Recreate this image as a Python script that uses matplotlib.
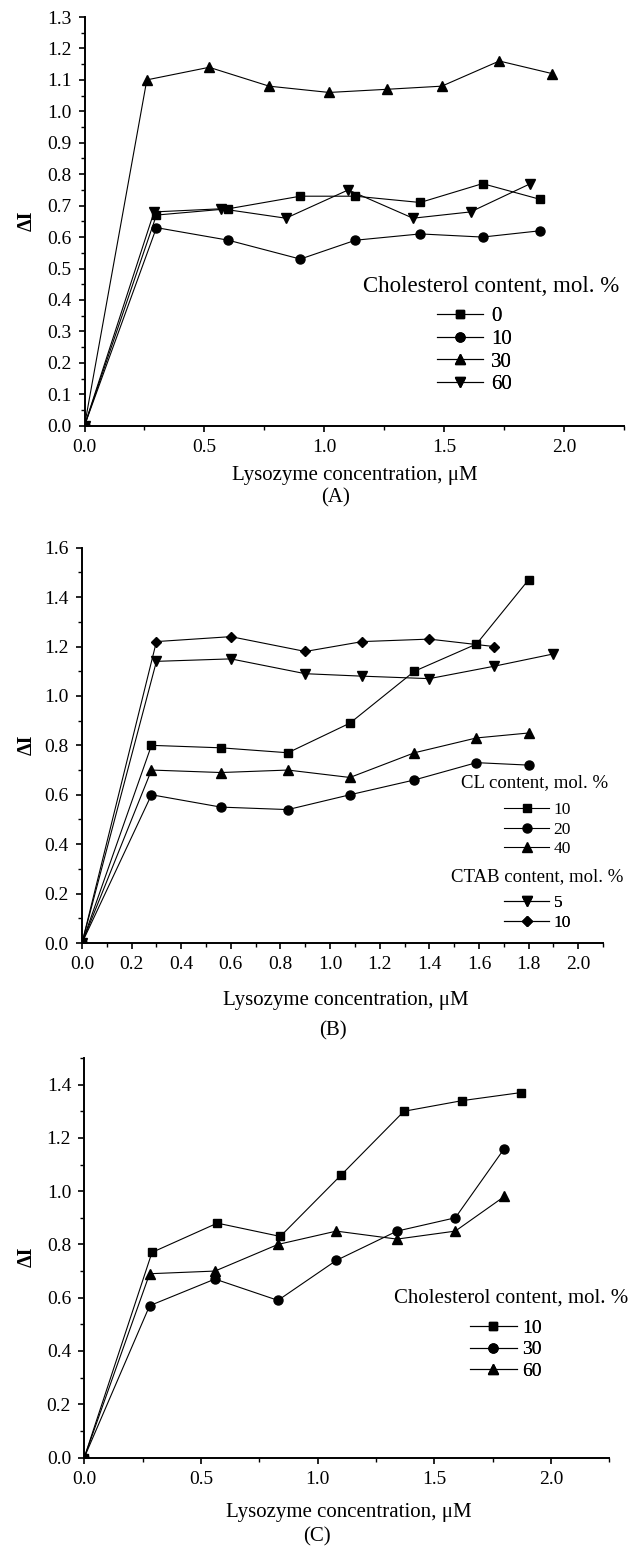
import matplotlib
matplotlib.use("Agg")
import matplotlib.pyplot as plt
from matplotlib.ticker import MultipleLocator

plt.rcParams['font.family'] = ['Liberation Serif', 'DejaVu Serif']

# ---------------- Panel A data ----------------
a_labels = ["0", "10", "30", "60"]
a_x0 = [0.0, 0.30, 0.60, 0.90, 1.13, 1.40, 1.66, 1.90]
a_y0 = [0.0, 0.67, 0.69, 0.73, 0.73, 0.71, 0.77, 0.72]
a_x10 = [0.0, 0.30, 0.60, 0.90, 1.13, 1.40, 1.66, 1.90]
a_y10 = [0.0, 0.63, 0.59, 0.53, 0.59, 0.61, 0.60, 0.62]
a_x30 = [0.0, 0.26, 0.52, 0.77, 1.02, 1.26, 1.49, 1.73, 1.95]
a_y30 = [0.0, 1.10, 1.14, 1.08, 1.06, 1.07, 1.08, 1.16, 1.12]
a_x60 = [0.0, 0.29, 0.57, 0.84, 1.10, 1.37, 1.61, 1.86]
a_y60 = [0.0, 0.68, 0.69, 0.66, 0.75, 0.66, 0.68, 0.77]

# ---------------- Panel B data ----------------
b_cl_labels = ["10", "20", "40"]
b_ctab_labels = ["5", "10"]
b_x_cl = [0.0, 0.28, 0.56, 0.83, 1.08, 1.34, 1.59, 1.80]
b_y_cl10 = [0.0, 0.80, 0.79, 0.77, 0.89, 1.10, 1.21, 1.47]
b_y_cl20 = [0.0, 0.60, 0.55, 0.54, 0.60, 0.66, 0.73, 0.72]
b_y_cl40 = [0.0, 0.70, 0.69, 0.70, 0.67, 0.77, 0.83, 0.85]
b_x_ctab5 = [0.0, 0.30, 0.60, 0.90, 1.13, 1.40, 1.66, 1.90]
b_y_ctab5 = [0.0, 1.14, 1.15, 1.09, 1.08, 1.07, 1.12, 1.17]
b_x_ctab10 = [0.0, 0.30, 0.60, 0.90, 1.13, 1.40, 1.66]
b_y_ctab10 = [0.0, 1.22, 1.24, 1.18, 1.22, 1.23, 1.20]

# ---------------- Panel C data ----------------
c_labels = ["10", "30", "60"]
c_x10 = [0.0, 0.29, 0.57, 0.84, 1.10, 1.37, 1.62, 1.87]
c_y10 = [0.0, 0.77, 0.88, 0.83, 1.06, 1.30, 1.34, 1.37]
c_x30 = [0.0, 0.28, 0.56, 0.83, 1.08, 1.34, 1.59, 1.80]
c_y30 = [0.0, 0.57, 0.67, 0.59, 0.74, 0.85, 0.90, 1.16]
c_x60 = [0.0, 0.28, 0.56, 0.83, 1.08, 1.34, 1.59, 1.80]
c_y60 = [0.0, 0.69, 0.70, 0.80, 0.85, 0.82, 0.85, 0.98]

xlabel = "Lysozyme concentration, \u03bcM"
ylabel = "\u0394I"

W, H = 638, 1555
fig = plt.figure(figsize=(W / 100, H / 100), dpi=100)


def fx(x):
    return x / W


def fy(y):
    return 1 - y / H


def make_ax(left, top, right, bottom):
    return fig.add_axes([fx(left), fy(bottom), (right - left) / W, (bottom - top) / H])


def style(ax, xlim, ylim, xmaj, xmin, ymaj, ymin):
    ax.set_xlim(*xlim)
    ax.set_ylim(*ylim)
    ax.xaxis.set_major_locator(MultipleLocator(xmaj))
    ax.xaxis.set_minor_locator(MultipleLocator(xmin))
    ax.yaxis.set_major_locator(MultipleLocator(ymaj))
    ax.yaxis.set_minor_locator(MultipleLocator(ymin))
    ax.xaxis.set_major_formatter(plt.FormatStrFormatter('%.1f'))
    ax.yaxis.set_major_formatter(plt.FormatStrFormatter('%.1f'))
    for s in ['top', 'right']:
        ax.spines[s].set_visible(False)
    for s in ['left', 'bottom']:
        ax.spines[s].set_linewidth(1.4)
    ax.tick_params(which='major', direction='out', length=4.5, width=1.2, labelsize=14, pad=5)
    ax.tick_params(which='minor', direction='out', length=2.8, width=1.0)


def labels(xc, xly, yly, letter, lx, ly, axcy):
    fig.text(fx(xc), fy(xly), xlabel, ha='center', va='center', fontsize=15)
    fig.text(fx(26.6), fy(axcy), ylabel, ha='center', va='center', rotation=90,
             fontsize=14.5, fontweight='bold')
    fig.text(fx(lx), fy(ly), letter, ha='center', va='center', fontsize=15)


def entries(ax, handles, labs, left, cy, fs, hl, tp, ls):
    leg = ax.legend(handles, labs, frameon=False, loc='center left',
                    bbox_to_anchor=(fx(left), fy(cy)), bbox_transform=fig.transFigure,
                    fontsize=fs, handlelength=hl, handletextpad=tp, labelspacing=ls,
                    borderpad=0, borderaxespad=0)
    ax.add_artist(leg)
    return leg


lw = 0.8

# ---------- Panel A ----------
axA = make_ax(84.5, 17, 624, 425.7)
hA = []
hA += axA.plot(a_x0, a_y0, marker='s', markersize=5.5, color='black', lw=lw)
hA += axA.plot(a_x10, a_y10, marker='o', markersize=6.5, color='black', lw=lw)
hA += axA.plot(a_x30, a_y30, marker='^', markersize=7, color='black', lw=lw)
hA += axA.plot(a_x60, a_y60, marker='v', markersize=7, color='black', lw=lw)
style(axA, (0, 2.25), (0, 1.3), 0.5, 0.25, 0.1, 0.05)
fig.text(fx(491), fy(286), "Cholesterol content, mol. %", ha='center', va='center', fontsize=16.5)
entries(axA, hA, a_labels, 437, 350.5, 15, 2.2, 0.4, 0.15)
labels(355, 475.7, 0, "(A)", 336, 498, 221)

# ---------- Panel B ----------
axB = make_ax(82, 547.7, 603, 943)
h_cl = []
h_cl += axB.plot(b_x_cl, b_y_cl10, marker='s', markersize=5.5, color='black', lw=lw)
h_cl += axB.plot(b_x_cl, b_y_cl20, marker='o', markersize=6.5, color='black', lw=lw)
h_cl += axB.plot(b_x_cl, b_y_cl40, marker='^', markersize=7, color='black', lw=lw)
h_ct = []
h_ct += axB.plot(b_x_ctab5, b_y_ctab5, marker='v', markersize=7, color='black', lw=lw)
h_ct += axB.plot(b_x_ctab10, b_y_ctab10, marker='D', markersize=5.5, color='black', lw=lw)
style(axB, (0, 2.1), (0, 1.6), 0.2, 0.1, 0.2, 0.1)
fig.text(fx(535), fy(783), "CL content, mol. %", ha='center', va='center', fontsize=13.5)
entries(axB, h_cl, b_cl_labels, 504, 829.5, 12.5, 2.6, 0.25, 0.2)
fig.text(fx(537), fy(877), "CTAB content, mol. %", ha='center', va='center', fontsize=13.5)
entries(axB, h_ct, b_ctab_labels, 504, 913, 12.5, 2.6, 0.25, 0.2)
labels(345.6, 1000, 0, "(B)", 333, 1031, 745)

# ---------- Panel C ----------
axC = make_ax(84.3, 1058, 609.3, 1457.5)
hC = []
hC += axC.plot(c_x10, c_y10, marker='s', markersize=5.5, color='black', lw=lw)
hC += axC.plot(c_x30, c_y30, marker='o', markersize=6.5, color='black', lw=lw)
hC += axC.plot(c_x60, c_y60, marker='^', markersize=7, color='black', lw=lw)
style(axC, (0, 2.25), (0, 1.5), 0.5, 0.25, 0.2, 0.1)
fig.text(fx(511), fy(1298), "Cholesterol content, mol. %", ha='center', va='center', fontsize=15)
entries(axC, hC, c_labels, 469.5, 1349.5, 14, 2.45, 0.25, 0.2)
labels(348.7, 1513, 0, "(C)", 317, 1537, 1257)

fig.savefig("out.png", dpi=100)
